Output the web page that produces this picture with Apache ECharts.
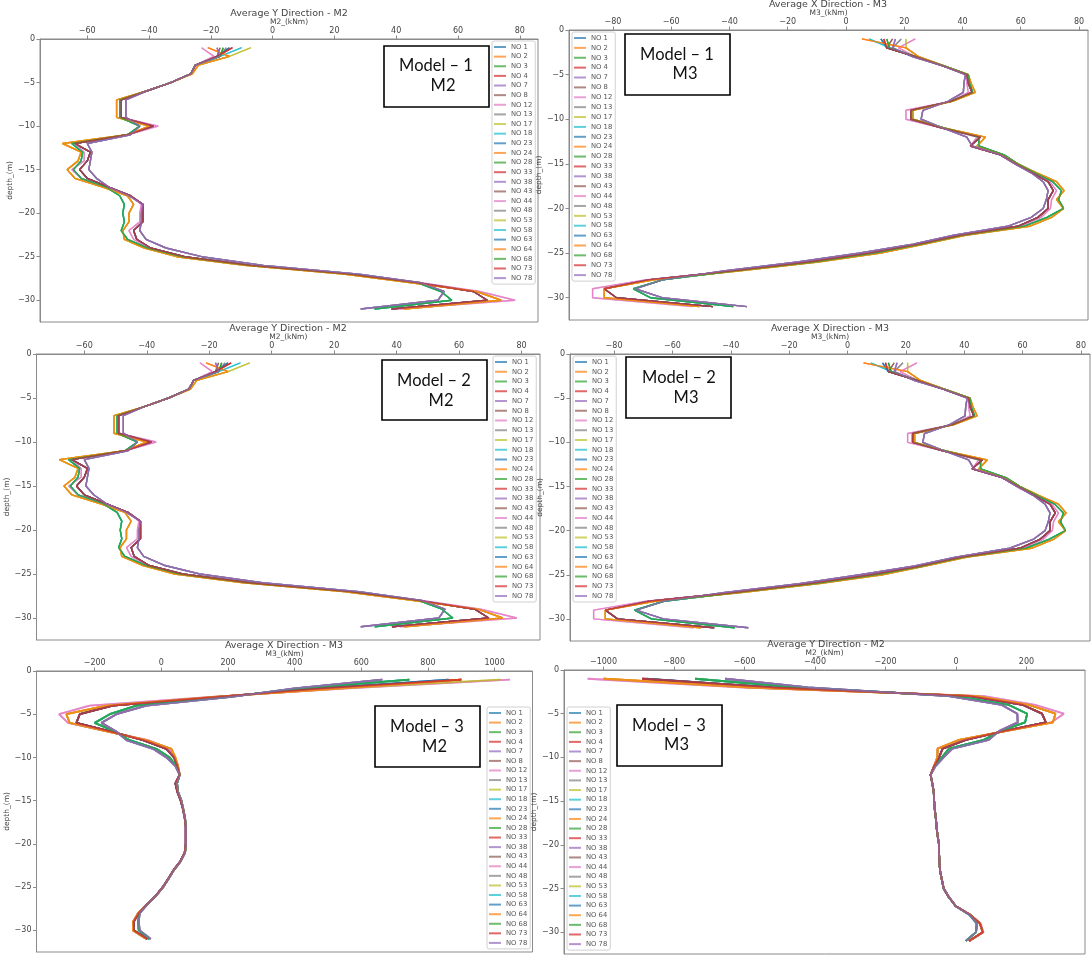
<!DOCTYPE html>
<html><head><meta charset="utf-8">
<script src="https://cdn.jsdelivr.net/npm/echarts@6/dist/echarts.min.js"></script>
<style>html,body{margin:0;padding:0;background:#fff}#c{width:1092px;height:960px}</style>
</head><body><div id="c"></div><script>
// ---------------- DATA ----------------
const seriesNames = ['NO 1','NO 2','NO 3','NO 4','NO 7','NO 8','NO 12','NO 13','NO 17','NO 18','NO 23','NO 24','NO 28','NO 33','NO 38','NO 43','NO 44','NO 48','NO 53','NO 58','NO 63','NO 64','NO 68','NO 73','NO 78'];
const depths = [-1,-2,-3,-4,-5,-6,-7,-8,-9,-10,-11,-12,-13,-14,-15,-16,-17,-18,-19,-20,-21,-22,-23,-24,-25,-26,-27,-28,-29,-30,-31];
const depthTicks = [0,-5,-10,-15,-20,-25,-30];
const ticksM2small = [-60,-40,-20,0,20,40,60,80];
const ticksM3small = [-80,-60,-40,-20,0,20,40,60,80];
const ticksM3big = [-200,0,200,400,600,800,1000];
const ticksM2big = [-1000,-800,-600,-400,-200,0,200];
// colour families of the tab10 cycle and the visible profile each one follows
const profileOfColour = ['red','olive','green','red','purple','red','pink','purple','olive','green'];

// Models 1 & 2, Y direction M2 (kNm) at depths -1..-31
const m12M2_red    = [-13,-18,-25,-26.5,-33,-41,-49,-49,-49,-38.5,-47,-64,-59,-60,-62.5,-60,-53,-46,-42,-42,-42,-45,-44,-39.5,-28.5,-7,25,47,65,69.5,38.5];
const m12M2_pink   = [-23,-19,-25,-26.5,-33,-41,-49,-49,-49,-37,-47,-64,-61,-61,-65,-62,-54,-46,-42.5,-43,-43,-46.5,-45,-40,-29,-7,25,48,67,78.5,41];
const m12M2_olive  = [-7,-14,-24,-26,-33,-41,-50.5,-50.5,-50.5,-40,-47,-68,-62,-63,-66.5,-64,-55,-47,-45,-46.5,-46.5,-48.5,-48,-41.5,-31,-9,23,45,66,74,42.5];
const m12M2_green  = [-16,-17,-25,-26.5,-33,-41,-49.5,-49.5,-49.5,-43,-47,-65,-61.5,-62,-64.5,-62,-54,-49.5,-48,-48.5,-48,-49,-47,-40.5,-29.5,-7.5,25,47,54.5,58,33];
const m12M2_purple = [-18,-17,-25,-26.5,-33,-41,-47.5,-47.5,-47.5,-43,-46,-60,-58.5,-59,-59.5,-57,-53,-46.5,-42,-42.5,-42.5,-43,-41,-34.5,-23,-3,28,48,55.5,53.5,28.5];
const m12M2_top    = [-14,-21,-16,-13,-18,-17,-23,-15,-7,-10];

// Models 1 & 2, X direction M3 (kNm)
const m12M3_red    = [13,14,24,33,41.5,42,43.3,36,22.3,22.3,33,46.2,42.7,53,58.4,64,69.4,71.2,69.4,69.4,65.9,59,39,25,8,-13,-39,-68,-83,-78.8,-45.7];
const m12M3_pink   = [23.8,18,24,33,41.5,41.5,42,36,20.6,20.6,33,45,42.7,53,58,64,70,72.3,70.6,70.2,67,60,39,25,8,-13,-39,-69,-87,-87,-52.7];
const m12M3_olive  = [20.6,20.6,25,33.5,42,43,44.4,36.5,23,23,34,47.9,45,54,59,65.5,72.3,74.9,72.3,74.7,70.6,63,41,27,11.9,-9.7,-36.4,-66,-83,-83,-50.3];
const m12M3_green  = [14,15,24,33.5,42,42.5,43.5,36,22.5,22.5,34,45.6,45.6,54.3,59,65,71,74,73,74.7,69,61,40,26,10,-11,-38,-63,-73,-67.2,-38.7];
const m12M3_purple = [17,16,23,33,41,40.5,40.3,35,26.4,25.8,33.4,41.5,43.3,53,58,63.6,67.7,69.4,68.8,67.7,63.6,55.5,37,23,4.3,-16.6,-42,-63,-72.4,-63.1,-34];
const m12M3_top    = [12,5.5,14,13,17,16,23.8,19,20.6,8];

// Model 3, X direction M3 (kNm)
const m3X_red    = [900,480,170,-146,-245,-255,-150,-55,15,38,48,55,42,48,58,65,70,73,73,73,70,57,37,21,4,-17,-43,-68,-83,-82,-42];
const m3X_pink   = [1046,560,150,-215,-307,-280,-160,-40,25,40,50,55,45,50,60,66,70,73,73,73,70,57,38,22,5,-16,-42,-70,-85,-85,-45];
const m3X_olive  = [1018,540,160,-165,-285,-275,-160,-45,30,42,50,55,45,50,60,66,70,74,74,74,71,58,38,22,5,-16,-42,-70,-85,-85,-45];
const m3X_green  = [744,420,200,-75,-155,-200,-140,-95,-15,25,45,55,47,50,60,66,71,74,74,74,71,58,38,22,5,-16,-42,-66,-70,-68,-36];
const m3X_purple = [663,400,210,-45,-135,-180,-135,-105,-25,15,42,55,47,50,60,66,71,74,74,74,71,58,38,22,5,-16,-42,-65,-68,-65,-32];
const m3X_top    = [862,900,744,900,663,900,1046,663,1018,744];

// Model 3, Y direction M2 (kNm)
const m3Y_red    = [-890,-520,40,190,244,255,135,28,-38,-48,-62,-72,-67,-63,-62,-60,-57,-55,-52,-48,-48,-47,-45,-40,-35,-20,-1,40,68,76,37];
const m3Y_pink   = [-1045,-600,80,225,306,270,140,15,-52,-53,-62,-72,-67,-63,-62,-60,-57,-55,-52,-48,-48,-47,-45,-40,-35,-20,-1,40,70,78,38];
const m3Y_olive  = [-1000,-580,60,207,282,275,140,9,-52,-53,-62,-72,-67,-63,-62,-60,-57,-55,-52,-48,-48,-47,-45,-40,-35,-20,-1,40,68,76,37];
const m3Y_green  = [-740,-450,0,150,202,196,125,79,-20,-40,-60,-72,-67,-63,-62,-60,-57,-55,-52,-48,-48,-47,-45,-40,-35,-20,-1,38,59,57,28];
const m3Y_purple = [-655,-420,-20,130,174,175,122,93,-10,-35,-58,-72,-67,-63,-62,-60,-57,-55,-52,-48,-48,-47,-45,-40,-35,-20,-1,38,59,57,28];
const m3Y_top    = [-880,-1000,-740,-890,-655,-890,-1045,-655,-1000,-740];

// ---------------- BUILD ----------------
const tab10 = ['#1f77b4','#ff7f0e','#2ca02c','#d62728','#9467bd','#8c564b','#e377c2','#7f7f7f','#bcbd22','#17becf'];
function rgba(hex,a){const n=parseInt(hex.slice(1),16);return 'rgba('+(n>>16)+','+((n>>8)&255)+','+(n&255)+','+a+')';}
const profM12M2 = {red:m12M2_red,pink:m12M2_pink,olive:m12M2_olive,green:m12M2_green,purple:m12M2_purple};
const profM12M3 = {red:m12M3_red,pink:m12M3_pink,olive:m12M3_olive,green:m12M3_green,purple:m12M3_purple};
const profM3X = {red:m3X_red,pink:m3X_pink,olive:m3X_olive,green:m3X_green,purple:m3X_purple};
const profM3Y = {red:m3Y_red,pink:m3Y_pink,olive:m3Y_olive,green:m3Y_green,purple:m3Y_purple};

const FONT = 'DejaVu Sans';
const BOXFONT = 'Lato';
const panels = [
 {title:'Average Y Direction - M2', xName:'M2_(kNm)', g:[40,39,498,283], x:[-75.3,85.9], ticks:ticksM2small, prof:profM12M2, tops:m12M2_top,
  leg:[492,41,1.63], box:[384,46,105,61], l1:['Model \u2013 1',436,66], l2:['M2',443,86], t:[289,14], lw:1.4},
 {title:'Average X Direction - M3', xName:'M3_(kNm)', g:[569,30,519,290], x:[-95.1,83.1], ticks:ticksM3small, prof:profM12M3, tops:m12M3_top,
  leg:[572,32,1.88], box:[625,34,105,61], l1:['Model \u2013 1',677,55], l2:['M3',685,74], t:[828,5], lw:1.4},
 {title:'Average Y Direction - M2', xName:'M2_(kNm)', g:[36.5,354,503.5,286], x:[-75.3,85.9], ticks:ticksM2small, prof:profM12M2, tops:m12M2_top,
  leg:[493,356,1.75], box:[382,360,105,60], l1:['Model \u2013 2',434,381], l2:['M2',441,401], t:[288,329], lw:1.4},
 {title:'Average X Direction - M3', xName:'M3_(kNm)', g:[570,354,520,287], x:[-95.1,83.1], ticks:ticksM3small, prof:profM12M3, tops:m12M3_top,
  leg:[573,356,1.75], box:[626,357,105,61], l1:['Model \u2013 2',679,378], l2:['M3',686,398], t:[830,329], lw:1.4},
 {title:'Average X Direction - M3', xName:'M3_(kNm)', g:[36.5,671,496,281], x:[-374.7,1113.7], ticks:ticksM3big, prof:profM3X, tops:m3X_top,
  leg:[487,707,1.58], box:[375,706,105,61], l1:['Model \u2013 3',427,727], l2:['M2',434.5,747], t:[284,646], lw:1.8},
 {title:'Average Y Direction - M2', xName:'M2_(kNm)', g:[564,670,521,284], x:[-1112,366], ticks:ticksM2big, prof:profM3Y, tops:m3Y_top,
  leg:[567,707,1.63], box:[617,705,105,61], l1:['Model \u2013 3',669,726], l2:['M3',676.5,745], t:[826,645], lw:1.8}
];
const minus = v => String(v).replace('-', '\u2212');
const axisCol = '#8a8a8a', txtCol = '#444';
const grid=[], xAxis=[], yAxis=[], series=[], legend=[], graphic=[];
panels.forEach((p,pi)=>{
  grid.push({left:p.g[0], top:p.g[1], width:p.g[2], height:p.g[3], show:true, borderColor:axisCol, borderWidth:1, containLabel:false});
  xAxis.push({type:'value', gridIndex:pi, position:'top', min:p.x[0], max:p.x[1],
    name:p.xName, nameLocation:'middle', nameGap:12, nameTextStyle:{fontFamily:FONT,fontSize:7.5,color:txtCol},
    axisLine:{show:true,onZero:false,lineStyle:{color:axisCol}},
    axisTick:{show:true,length:3.5,lineStyle:{color:axisCol},customValues:p.ticks},
    axisLabel:{show:true,customValues:p.ticks,fontFamily:FONT,fontSize:8,color:txtCol,margin:4,formatter:minus},
    splitLine:{show:false}});
  yAxis.push({type:'value', gridIndex:pi, min:-32.5, max:0,
    name:'depth_(m)', nameLocation:'middle', nameGap:20, nameTextStyle:{fontFamily:FONT,fontSize:7.5,color:txtCol},
    axisLine:{show:true,onZero:false,lineStyle:{color:axisCol}},
    axisTick:{show:true,length:3.5,lineStyle:{color:axisCol},customValues:depthTicks},
    axisLabel:{show:true,customValues:depthTicks,fontFamily:FONT,fontSize:8,color:txtCol,margin:5,formatter:minus},
    splitLine:{show:false}});
  seriesNames.forEach((nm,i)=>{
    const c = i%10;
    const vals = p.prof[profileOfColour[c]].slice();
    vals[0] = p.tops[c];
    const col = rgba(tab10[c],0.7);
    series.push({type:'line', name:nm, xAxisIndex:pi, yAxisIndex:pi, data:vals.map((v,k)=>[v,depths[k]]),
      showSymbol:false, symbol:'none', silent:true, itemStyle:{color:col}, lineStyle:{color:col,width:p.lw}});
  });
  legend.push({orient:'vertical', left:p.leg[0], top:p.leg[1], itemGap:p.leg[2], itemWidth:12, itemHeight:2, icon:'rect',
    padding:[2,3,2,2], backgroundColor:'rgba(255,255,255,0.85)', borderColor:'#d0d0d0', borderWidth:1, borderRadius:2,
    selectedMode:false, data:seriesNames, textStyle:{fontFamily:FONT,fontSize:6.8,color:'#555',lineHeight:8}});
  graphic.push({type:'text', x:p.t[0], y:p.t[1], style:{text:p.title, fontFamily:FONT, fontSize:9.5, fill:txtCol, align:'center', verticalAlign:'middle'}});
  graphic.push({type:'rect', shape:{x:p.box[0], y:p.box[1], width:p.box[2], height:p.box[3]}, style:{fill:'#fff', stroke:'#000', lineWidth:1.6}, z:100});
  graphic.push({type:'text', x:p.l1[1], y:p.l1[2], z:101, style:{text:p.l1[0], fontFamily:BOXFONT, fontSize:16.5, fill:'#111', align:'center', verticalAlign:'middle'}});
  graphic.push({type:'text', x:p.l2[1], y:p.l2[2], z:101, style:{text:p.l2[0], fontFamily:BOXFONT, fontSize:16.5, fill:'#111', align:'center', verticalAlign:'middle'}});
});
const chart = echarts.init(document.getElementById('c'), null, {renderer:'canvas'});
chart.setOption({animation:false, backgroundColor:'#fff', grid, xAxis, yAxis, series, legend, graphic});
</script></body></html>
